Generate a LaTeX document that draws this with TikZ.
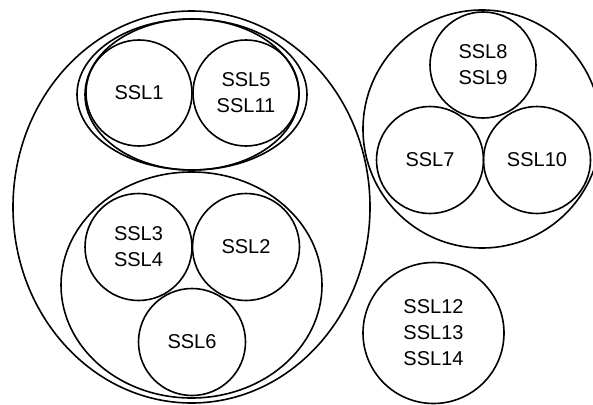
\documentclass[tikz,border=0pt]{standalone}
\usepackage{fontspec}
\setmainfont{Liberation Sans}
\usetikzlibrary{shapes.geometric}
\begin{document}
\begin{tikzpicture}[x=1pt,y=-1pt, line width=1.6pt,
  lbl/.style={circle, draw, inner sep=0pt, minimum size=#1, align=center, font=\fontsize{20}{26}\selectfont},
  ring/.style={ellipse, draw, inner sep=0pt}]
\useasboundingbox (0,0) rectangle (593,404);
\clip (0,0) rectangle (593,404);
% left group
\node[ring, minimum width=357pt, minimum height=392pt] (big) at (191.5,207) {};
\node[ring, minimum width=230pt, minimum height=151pt] (topout) at (192,94.5) {};
\node[ring, minimum width=214pt, minimum height=151pt] (topin) at (192,94.5) {};
\node[lbl=106pt] (s1) at (139,93) {SSL1};
\node[lbl=106pt] (s5) at (246,93) {SSL5\\SSL11};
\node[ring, minimum width=261pt, minimum height=226pt] (low) at (191.5,285) {};
\node[lbl=107pt] (s3) at (138.5,247) {SSL3\\SSL4};
\node[lbl=107pt] (s2) at (246,247) {SSL2};
\node[lbl=107pt] (s6) at (192,342) {SSL6};
% right group
\node[lbl=238pt] (right) at (482,129) {};
\node[lbl=106pt] (s8) at (483,65) {SSL8\\SSL9};
\node[lbl=107pt] (s7) at (430,160) {SSL7};
\node[lbl=107pt] (s10) at (537,160) {SSL10};
% lone circle
\node[lbl=141pt] (s12) at (433.5,333) {SSL12\\SSL13\\SSL14};
\end{tikzpicture}
\end{document}
